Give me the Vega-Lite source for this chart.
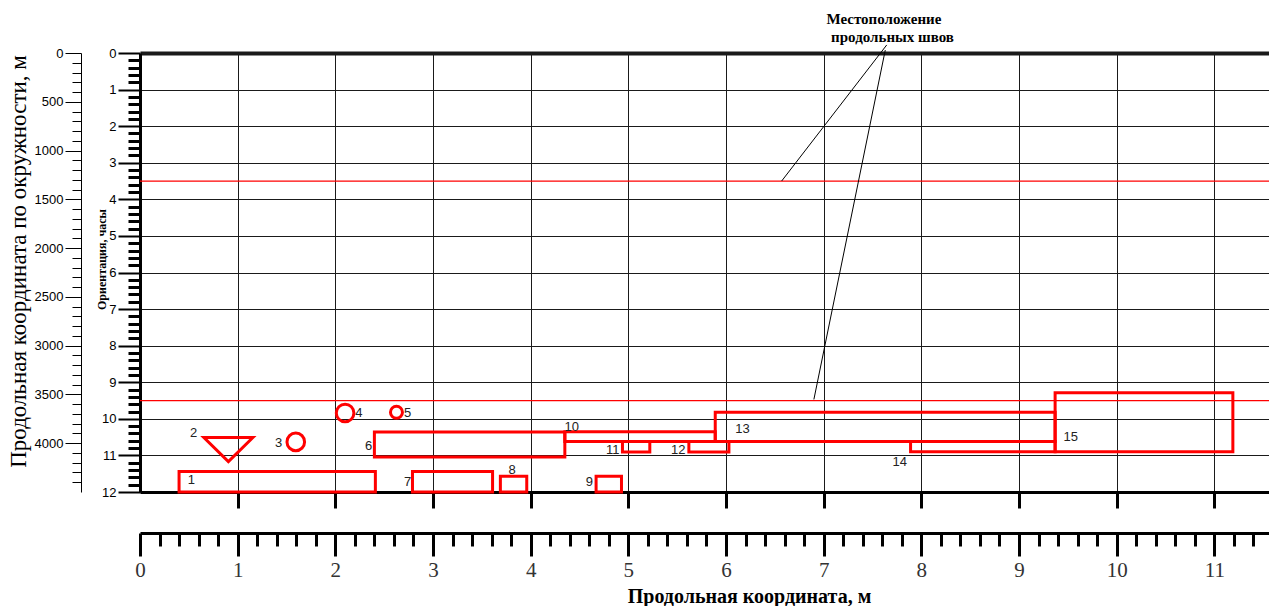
{
  "$schema": "https://vega.github.io/schema/vega-lite/v6.json",
  "width": 1129,
  "height": 439,
  "autosize": "none",
  "padding": {"left": 140, "top": 53, "right": 0, "bottom": 114},
  "background": "white",
  "config": {
    "view": {"stroke": null},
    "axis": {"labelOverlap": false, "labelFlush": false, "domainColor": "black", "tickColor": "black", "labelColor": "black", "titleColor": "black"}
  },
  "datasets": {
    "rect_defects": [
      {"id": 1, "x": 0.40, "x2": 2.41, "y": 11.44, "y2": 12},
      {"id": 6, "x": 2.40, "x2": 4.35, "y": 10.36, "y2": 11.04},
      {"id": 7, "x": 2.79, "x2": 3.61, "y": 11.44, "y2": 12},
      {"id": 8, "x": 3.69, "x2": 3.96, "y": 11.57, "y2": 12},
      {"id": 9, "x": 4.67, "x2": 4.93, "y": 11.57, "y2": 12},
      {"id": 10, "x": 4.35, "x2": 5.89, "y": 10.35, "y2": 10.62},
      {"id": 11, "x": 4.94, "x2": 5.22, "y": 10.62, "y2": 10.91},
      {"id": 12, "x": 5.62, "x2": 6.03, "y": 10.62, "y2": 10.91},
      {"id": 13, "x": 5.89, "x2": 9.37, "y": 9.82, "y2": 10.62},
      {"id": 14, "x": 7.89, "x2": 9.37, "y": 10.62, "y2": 10.90},
      {"id": 15, "x": 9.37, "x2": 11.19, "y": 9.29, "y2": 10.90}
    ],
    "point_defects": [
      {"id": 2, "kind": "triangle", "x": 0.905, "y": 10.84},
      {"id": 3, "kind": "circle", "x": 1.595, "y": 10.63},
      {"id": 4, "kind": "circle", "x": 2.10, "y": 9.84},
      {"id": 5, "kind": "circle", "x": 2.626, "y": 9.82}
    ],
    "defect_labels": [
      {"label": "1", "x": 0.525, "y": 11.66},
      {"label": "2", "x": 0.55, "y": 10.39},
      {"label": "3", "x": 1.42, "y": 10.66},
      {"label": "4", "x": 2.24, "y": 9.84},
      {"label": "5", "x": 2.74, "y": 9.84},
      {"label": "6", "x": 2.34, "y": 10.74},
      {"label": "7", "x": 2.74, "y": 11.74},
      {"label": "8", "x": 3.81, "y": 11.39},
      {"label": "9", "x": 4.60, "y": 11.74},
      {"label": "10", "x": 4.42, "y": 10.21},
      {"label": "11", "x": 4.84, "y": 10.86},
      {"label": "12", "x": 5.51, "y": 10.86},
      {"label": "13", "x": 6.17, "y": 10.28},
      {"label": "14", "x": 7.78, "y": 11.17},
      {"label": "15", "x": 9.53, "y": 10.5}
    ],
    "seams": [{"y": 3.5}, {"y": 9.5}],
    "leaders": [
      {"x": 7.646, "y": -0.22, "x2": 6.57, "y2": 3.5},
      {"x": 7.631, "y": -0.08, "x2": 6.90, "y2": 9.47}
    ],
    "seam_note": [
      {"text": "Местоположение", "x": 7.617, "y": -0.93},
      {"text": "продольных швов", "x": 7.705, "y": -0.45}
    ]
  },
  "layer": [
    {
      "data": {"name": "rect_defects"},
      "mark": {"type": "rect", "filled": false, "stroke": "#ff0000", "strokeWidth": 3},
      "encoding": {
        "x": {
          "field": "x", "type": "quantitative",
          "scale": {"domain": [0, 11.56], "nice": false, "zero": false},
          "axis": {
            "orient": "bottom", "values": [1, 2, 3, 4, 5, 6, 7, 8, 9, 10, 11],
            "labels": false, "title": null, "domainWidth": 3,
            "tickSize": 16, "tickWidth": 3,
            "grid": true, "gridColor": "#1a1a1a", "gridWidth": 1
          }
        },
        "x2": {"field": "x2"},
        "y": {
          "field": "y", "type": "quantitative",
          "scale": {"domain": [0, 12], "reverse": true, "nice": false, "zero": false},
          "axis": {
            "orient": "left",
            "values": [0, 0.2, 0.4, 0.6, 0.8, 1, 1.2, 1.4, 1.6, 1.8, 2, 2.2, 2.4, 2.6, 2.8, 3, 3.2, 3.4, 3.6, 3.8, 4, 4.2, 4.4, 4.6, 4.8, 5, 5.2, 5.4, 5.6, 5.8, 6, 6.2, 6.4, 6.6, 6.8, 7, 7.2, 7.4, 7.6, 7.8, 8, 8.2, 8.4, 8.6, 8.8, 9, 9.2, 9.4, 9.6, 9.8, 10, 10.2, 10.4, 10.6, 10.8, 11, 11.2, 11.4, 11.6, 11.8, 12],
            "labelExpr": "abs(datum.value - round(datum.value)) < 0.001 ? format(datum.value, 'd') : ''",
            "domainWidth": 3,
            "tickSize": {"condition": {"test": "abs(datum.value - round(datum.value)) < 0.001", "value": 22}, "value": 12},
            "tickWidth": {"condition": {"test": "abs(datum.value - round(datum.value)) < 0.001", "value": 2}, "value": 3},
            "labelFont": "Liberation Sans", "labelFontSize": 13, "labelPadding": 2,
            "grid": true, "gridColor": "#1a1a1a",
            "gridOpacity": {"condition": {"test": "abs(datum.value - round(datum.value)) < 0.001", "value": 1}, "value": 0},
            "gridWidth": {"condition": {"test": "datum.value === 0", "value": 4}, "value": 1},
            "title": "Ориентация, часы",
            "titleFont": "Liberation Serif", "titleFontSize": 12, "titleFontWeight": "bold",
            "titleAngle": 270, "titleX": -39, "titleY": 206, "titleBaseline": "middle", "titleAlign": "center"
          }
        },
        "y2": {"field": "y2"}
      }
    },
    {
      "data": {"name": "seams"},
      "mark": {"type": "rule", "color": "#ff0000", "strokeWidth": 1.2},
      "encoding": {
        "y": {"field": "y", "type": "quantitative", "scale": {"domain": [0, 12], "reverse": true, "nice": false, "zero": false}, "axis": null}
      }
    },
    {
      "data": {"name": "point_defects"},
      "transform": [{"filter": "datum.kind === 'circle' && datum.id !== 5"}],
      "mark": {"type": "point", "shape": "circle", "filled": false, "color": "#ff0000", "strokeWidth": 3, "size": 310, "opacity": 1},
      "encoding": {
        "x": {"field": "x", "type": "quantitative", "scale": {"domain": [0, 11.56], "nice": false, "zero": false}, "axis": null},
        "y": {"field": "y", "type": "quantitative", "scale": {"domain": [0, 12], "reverse": true, "nice": false, "zero": false}, "axis": null}
      }
    },
    {
      "data": {"name": "point_defects"},
      "transform": [{"filter": "datum.id === 5"}],
      "mark": {"type": "point", "shape": "circle", "filled": false, "color": "#ff0000", "strokeWidth": 3, "size": 144, "opacity": 1},
      "encoding": {
        "x": {"field": "x", "type": "quantitative", "scale": {"domain": [0, 11.56], "nice": false, "zero": false}, "axis": null},
        "y": {"field": "y", "type": "quantitative", "scale": {"domain": [0, 12], "reverse": true, "nice": false, "zero": false}, "axis": null}
      }
    },
    {
      "data": {"name": "point_defects"},
      "transform": [{"filter": "datum.kind === 'triangle'"}],
      "mark": {"type": "point", "shape": "M-1,-0.49L1,-0.49L0,0.49Z", "filled": false, "color": "#ff0000", "strokeWidth": 3, "size": 2401, "opacity": 1},
      "encoding": {
        "x": {"field": "x", "type": "quantitative", "scale": {"domain": [0, 11.56], "nice": false, "zero": false}, "axis": null},
        "y": {"field": "y", "type": "quantitative", "scale": {"domain": [0, 12], "reverse": true, "nice": false, "zero": false}, "axis": null}
      }
    },
    {
      "data": {"name": "leaders"},
      "mark": {"type": "rule", "color": "black", "strokeWidth": 1},
      "encoding": {
        "x": {"field": "x", "type": "quantitative", "scale": {"domain": [0, 11.56], "nice": false, "zero": false}, "axis": null},
        "y": {"field": "y", "type": "quantitative", "scale": {"domain": [0, 12], "reverse": true, "nice": false, "zero": false}, "axis": null},
        "x2": {"field": "x2"},
        "y2": {"field": "y2"}
      }
    },
    {
      "data": {"name": "defect_labels"},
      "mark": {"type": "text", "font": "Liberation Sans", "fontSize": 13, "color": "#222", "align": "center", "baseline": "middle"},
      "encoding": {
        "x": {"field": "x", "type": "quantitative", "scale": {"domain": [0, 11.56], "nice": false, "zero": false}, "axis": null},
        "y": {"field": "y", "type": "quantitative", "scale": {"domain": [0, 12], "reverse": true, "nice": false, "zero": false}, "axis": null},
        "text": {"field": "label"}
      }
    },
    {
      "data": {"name": "seam_note"},
      "mark": {"type": "text", "font": "Liberation Serif", "fontSize": 15, "fontWeight": "bold", "color": "black", "align": "center", "baseline": "middle"},
      "encoding": {
        "x": {"field": "x", "type": "quantitative", "scale": {"domain": [0, 11.56], "nice": false, "zero": false}, "axis": null},
        "y": {"field": "y", "type": "quantitative", "scale": {"domain": [0, 12], "reverse": true, "nice": false, "zero": false}, "axis": null},
        "text": {"field": "text"}
      }
    },
    {
      "data": {"values": [{"x": 0, "y": 0}]},
      "mark": {"type": "point", "opacity": 0},
      "encoding": {
        "x": {
          "field": "x", "type": "quantitative",
          "scale": {"domain": [0, 11.56], "nice": false, "zero": false},
          "axis": {
            "orient": "bottom", "offset": 41,
            "values": [0, 0.2, 0.4, 0.6, 0.8, 1, 1.2, 1.4, 1.6, 1.8, 2, 2.2, 2.4, 2.6, 2.8, 3, 3.2, 3.4, 3.6, 3.8, 4, 4.2, 4.4, 4.6, 4.8, 5, 5.2, 5.4, 5.6, 5.8, 6, 6.2, 6.4, 6.6, 6.8, 7, 7.2, 7.4, 7.6, 7.8, 8, 8.2, 8.4, 8.6, 8.8, 9, 9.2, 9.4, 9.6, 9.8, 10, 10.2, 10.4, 10.6, 10.8, 11, 11.2, 11.4],
            "labelExpr": "abs(datum.value - round(datum.value)) < 0.001 ? format(datum.value, 'd') : ''",
            "domainWidth": 3,
            "tickSize": {"condition": {"test": "abs(datum.value - round(datum.value)) < 0.001", "value": 23}, "value": 13},
            "tickWidth": 3,
            "labelFont": "Liberation Serif", "labelFontSize": 21, "labelColor": "#333", "labelPadding": 3,
            "encode": {"labels": {"update": {"fill": {"value": "white"}, "stroke": {"value": "black"}, "strokeWidth": {"value": 0.6}}}},
            "grid": false,
            "title": "Продольная координата, м",
            "titleFont": "Liberation Serif", "titleFontSize": 20, "titleFontWeight": "bold",
            "titleX": 609, "titleY": 63, "titleBaseline": "middle", "titleAlign": "center"
          }
        },
        "y": {
          "field": "y", "type": "quantitative",
          "scale": {"domain": [0, 4500], "reverse": true, "nice": false, "zero": false},
          "axis": {
            "orient": "left", "offset": 59,
            "values": [0, 100, 200, 300, 400, 500, 600, 700, 800, 900, 1000, 1100, 1200, 1300, 1400, 1500, 1600, 1700, 1800, 1900, 2000, 2100, 2200, 2300, 2400, 2500, 2600, 2700, 2800, 2900, 3000, 3100, 3200, 3300, 3400, 3500, 3600, 3700, 3800, 3900, 4000, 4100, 4200, 4300, 4400],
            "labelExpr": "datum.value % 500 === 0 ? format(datum.value, 'd') : ''",
            "domainWidth": 1,
            "tickSize": {"condition": {"test": "datum.value % 500 === 0", "value": 16}, "value": 9},
            "tickWidth": 1,
            "labelFont": "Liberation Sans", "labelFontSize": 13, "labelPadding": 2,
            "grid": false,
            "title": "Продольная координата по окружности, м",
            "titleFont": "Liberation Serif", "titleFontSize": 23, "titleFontWeight": "normal",
            "titleAngle": 270, "titleX": -63, "titleY": 208, "titleBaseline": "middle", "titleAlign": "center"
          }
        }
      }
    }
  ],
  "resolve": {"scale": {"x": "independent", "y": "independent"}}
}
